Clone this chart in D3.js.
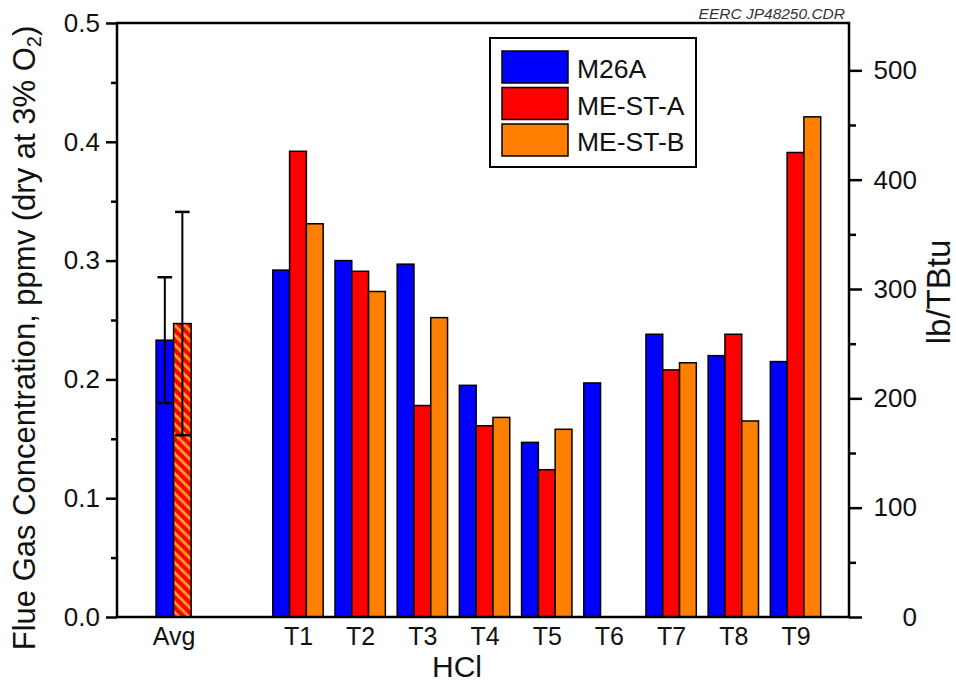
<!DOCTYPE html>
<html>
<head>
<meta charset="utf-8">
<script src="https://cdn.jsdelivr.net/npm/d3@7"></script>
<style>
  html, body { margin: 0; padding: 0; background: #fff; }
  svg { display: block; font-family: "Liberation Sans", Arial, sans-serif; }
</style>
</head>
<body>
<svg id="chart" width="956" height="687"></svg>
<script>
// ---- data ----
const tests = ["T1", "T2", "T3", "T4", "T5", "T6", "T7", "T8", "T9"];
const seriesNames = ["M26A", "ME-ST-A", "ME-ST-B"];
const seriesColors = ["#0000ff", "#ff0000", "#ff8000"];
const m26a  = [0.292, 0.300, 0.297, 0.195, 0.147, 0.197, 0.238, 0.220, 0.215];
const meStA = [0.392, 0.291, 0.178, 0.161, 0.124, null, 0.208, 0.238, 0.391];
const meStB = [0.331, 0.274, 0.252, 0.168, 0.158, null, 0.214, 0.165, 0.421];

// averages over the test runs, with their error bars
const avgLabel = "Avg";
const avgMethods = ["M26A", "ME-ST"];
const avgValues = [0.233, 0.247];
const avgErrors = [0.053, 0.094];

const leftTicks = [0, 0.1, 0.2, 0.3, 0.4, 0.5];
const leftMinor = [0.05, 0.15, 0.25, 0.35, 0.45];
const rightTicks = [0, 100, 200, 300, 400, 500];
const rightMinor = [50, 150, 250, 350, 450];
const rightMax = 543.3; // lb/TBtu at the top of the frame

// ---- layout ----
const svg = d3.select("#chart");
const L = 117, R = 849, T = 23, B = 617;

const y = d3.scaleLinear().domain([0, 0.5]).range([B, T]);
const yR = d3.scaleLinear().domain([0, rightMax]).range([B, T]);
// slot 0 holds the averages, slot 1 is left empty, tests fill slots 2..10
const x = d3.scaleLinear().domain([-0.91, 10.86]).range([L, R]);
const step = x(1) - x(0);
const slotOf = i => i + 2;

const defs = svg.append("defs");
const pat = defs.append("pattern")
  .attr("id", "hatch")
  .attr("patternUnits", "userSpaceOnUse")
  .attr("width", 7).attr("height", 7)
  .attr("patternTransform", "rotate(45)");
pat.append("rect").attr("width", 7).attr("height", 7).attr("fill", "#ff0000");
pat.append("rect").attr("width", 7).attr("height", 2.8).attr("fill", "#ffa020");

// ---- bars for each test ----
const tBar = 0.27 * step;
const series = [m26a, meStA, meStB];
const barData = [];
series.forEach((vals, s) => {
  vals.forEach((v, i) => {
    if (v == null) return;
    barData.push({ s, i, v });
  });
});

svg.append("g").selectAll("rect")
  .data(barData)
  .join("rect")
  .attr("x", d => x(slotOf(d.i)) + (d.s - 1.5) * tBar)
  .attr("y", d => y(d.v))
  .attr("width", tBar)
  .attr("height", d => y(0) - y(d.v))
  .attr("fill", d => seriesColors[d.s])
  .attr("stroke", "#000")
  .attr("stroke-width", 1.5);

// ---- average bars with error bars ----
const aBar = 0.282 * step;
const avgG = svg.append("g");
avgValues.forEach((v, k) => {
  const x0 = x(0) + (k - 1) * aBar;
  avgG.append("rect")
    .attr("x", x0)
    .attr("y", y(v))
    .attr("width", aBar)
    .attr("height", y(0) - y(v))
    .attr("fill", k === 0 ? seriesColors[0] : "url(#hatch)")
    .attr("stroke", "#000")
    .attr("stroke-width", 1.5);
});
avgValues.forEach((v, k) => {
  const cx = x(0) + (k - 0.5) * aBar;
  const lo = v - avgErrors[k], hi = v + avgErrors[k];
  avgG.append("line")
    .attr("x1", cx).attr("x2", cx)
    .attr("y1", y(lo)).attr("y2", y(hi))
    .attr("stroke", "#000").attr("stroke-width", 2);
  [lo, hi].forEach(e => {
    avgG.append("line")
      .attr("x1", cx - 7.3).attr("x2", cx + 7.3)
      .attr("y1", y(e)).attr("y2", y(e))
      .attr("stroke", "#000").attr("stroke-width", 2.5);
  });
});

// ---- axes ----
const leftAxis = svg.append("g").attr("transform", `translate(${L},0)`)
  .call(d3.axisLeft(y).tickValues(leftTicks).tickFormat(d3.format(".1f"))
    .tickSize(11).tickSizeOuter(0).tickPadding(6));
svg.append("g").attr("transform", `translate(${L},0)`)
  .call(d3.axisLeft(y).tickValues(leftMinor).tickFormat("").tickSize(6).tickSizeOuter(0));
leftAxis.selectAll("text").attr("font-size", 26);

const rightAxis = svg.append("g").attr("transform", `translate(${R},0)`)
  .call(d3.axisRight(yR).tickValues(rightTicks).tickFormat(d3.format("d"))
    .tickSize(13).tickSizeOuter(0));
svg.append("g").attr("transform", `translate(${R},0)`)
  .call(d3.axisRight(yR).tickValues(rightMinor).tickFormat("").tickSize(7).tickSizeOuter(0));
rightAxis.selectAll("text").attr("x", 68).attr("text-anchor", "end").attr("font-size", 26);

const xLabels = [avgLabel].concat(tests);
const xSlots = [0].concat(tests.map((t, i) => slotOf(i)));
const bottomAxis = svg.append("g").attr("transform", `translate(0,${B})`)
  .call(d3.axisBottom(x).tickValues(xSlots)
    .tickFormat((d, i) => xLabels[i]).tickSize(0).tickSizeOuter(0));
bottomAxis.selectAll("text").attr("y", 28).attr("dy", 0).attr("font-size", 25);

svg.selectAll(".domain").remove();
svg.selectAll(".tick line").attr("stroke", "#000").attr("stroke-width", 2.5);
svg.selectAll(".tick text")
  .attr("font-family", "'Liberation Sans', Arial, sans-serif")
  .attr("fill", "#111");

// frame around the plot
svg.append("rect")
  .attr("x", L).attr("y", T)
  .attr("width", R - L).attr("height", B - T)
  .attr("fill", "none")
  .attr("stroke", "#000")
  .attr("stroke-width", 2.5);

// ---- titles ----
const yTitle = svg.append("text")
  .attr("transform", `translate(35,${(T + B) / 2 + 18}) rotate(-90)`)
  .attr("text-anchor", "middle")
  .attr("font-size", 31)
  .attr("fill", "#111");
yTitle.append("tspan").text("Flue Gas Concentration, ppmv (dry at 3% O");
yTitle.append("tspan").attr("font-size", 20).attr("dy", 6).text("2");
yTitle.append("tspan").attr("dy", -6).text(")");

svg.append("text")
  .attr("transform", `translate(950,${(T + B) / 2 - 28}) rotate(-90)`)
  .attr("text-anchor", "middle")
  .attr("font-size", 33)
  .attr("fill", "#111")
  .text("lb/TBtu");

svg.append("text")
  .attr("x", 457).attr("y", 677)
  .attr("text-anchor", "middle")
  .attr("font-size", 30)
  .attr("fill", "#111")
  .text("HCl");

svg.append("text")
  .attr("x", 845).attr("y", 19)
  .attr("text-anchor", "end")
  .attr("font-size", 15.5)
  .attr("font-style", "italic")
  .attr("fill", "#333")
  .text("EERC JP48250.CDR");

// ---- legend ----
const lg = svg.append("g");
lg.append("rect")
  .attr("x", 490).attr("y", 38)
  .attr("width", 206).attr("height", 129)
  .attr("fill", "#fff").attr("stroke", "#000").attr("stroke-width", 2);
seriesNames.forEach((name, s) => {
  const ry = 51 + s * 36.5;
  lg.append("rect")
    .attr("x", 502).attr("y", ry)
    .attr("width", 66).attr("height", 32)
    .attr("fill", seriesColors[s]).attr("stroke", "#000").attr("stroke-width", 1.5);
  lg.append("text")
    .attr("x", 577).attr("y", ry + 27)
    .attr("font-size", 26.5)
    .attr("fill", "#111")
    .text(name);
});
</script>
</body>
</html>
